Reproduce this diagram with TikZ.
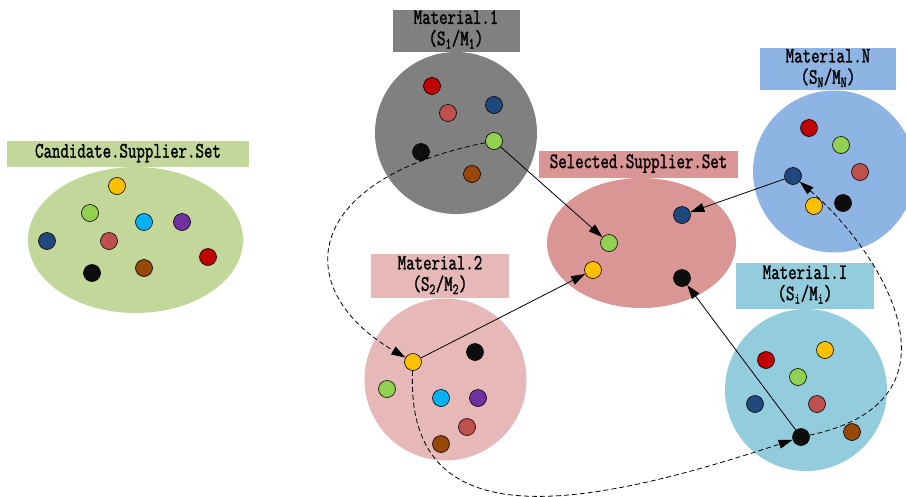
\documentclass[tikz,border=0pt]{standalone}
\usepackage{fontspec}
\usepackage{graphicx}
\usetikzlibrary{shapes.geometric,arrows.meta,positioning}
\newfontfamily\labfont[FakeBold=1.8]{Latin Modern Mono}
\newcommand{\labtxt}[1]{\scalebox{0.82}[1.1]{\begin{tabular}{@{}c@{}}#1\end{tabular}}}
\definecolor{candcol}{HTML}{C4D79B}
\definecolor{selcol}{HTML}{D99694}
\definecolor{onecol}{HTML}{808080}
\definecolor{twocol}{HTML}{E6B9B8}
\definecolor{ncol}{HTML}{8EB4E3}
\definecolor{icol}{HTML}{93CDDD}
\definecolor{yel}{HTML}{FFC000}
\definecolor{grn}{HTML}{92D050}
\definecolor{cya}{HTML}{00B0F0}
\definecolor{pur}{HTML}{7030A0}
\definecolor{nav}{HTML}{1F497D}
\definecolor{sal}{HTML}{C0504D}
\definecolor{red}{HTML}{C00000}
\definecolor{blk}{HTML}{0D0D0D}
\definecolor{brn}{HTML}{974706}

\begin{document}
\begin{tikzpicture}[x=1pt,y=-1pt,
  set/.style={ellipse,inner sep=0pt,fill=#1},
  mat/.style={circle,minimum size=162pt,inner sep=0pt,fill=#1},
  lab/.style={rectangle,inner sep=0pt,align=center,fill=#1,
    font=\labfont\fontsize{20}{18}\selectfont},
  dot/.style={circle,draw=black,line width=0.6pt,minimum size=17pt,inner sep=0pt,fill=#1},
  arr/.style={-{Triangle[length=14pt,width=9pt]},line width=0.8pt},
  dsh/.style={arr,dash pattern=on 5pt off 3pt}]
\useasboundingbox (0,0) rectangle (906,496);
\clip (0,0) rectangle (906,496);

\node[set=candcol,minimum width=215pt,minimum height=146pt] (cand) at (135.5,240) {};
\node[lab=candcol,minimum width=242pt,minimum height=26pt,above=0pt of cand,xshift=-7.5pt] (cand-lab) {\labtxt{Candidate.Supplier.Set}};
\node[set=selcol,minimum width=189pt,minimum height=130pt] (sel) at (641.5,243) {};
\node[lab=selcol,minimum width=199pt,minimum height=27pt,above=0pt of sel,xshift=-3pt] (sel-lab) {\labtxt{Selected.Supplier.Set}};
\node[mat=onecol] (mat1) at (456,133) {};
\node[lab=onecol,minimum width=127pt,minimum height=42pt,above=0pt of mat1] (mat1-lab) {\labtxt{Material.1\\(S\textsubscript{1}/M\textsubscript{1})}};
\node[mat=twocol] (mat2) at (445.5,379.5) {};
\node[lab=twocol,minimum width=138pt,minimum height=44pt,above=0pt of mat2,xshift=-5.5pt] (mat2-lab) {\labtxt{Material.2\\(S\textsubscript{2}/M\textsubscript{2})}};
\node[mat=ncol] (matN) at (834,171.5) {};
\node[lab=ncol,minimum width=136pt,minimum height=42pt,above=0pt of matN,xshift=-6pt] (matN-lab) {\labtxt{Material.N\\(S\textsubscript{N}/M\textsubscript{N})}};
\node[mat=icol] (matI) at (806,390) {};
\node[lab=icol,minimum width=138pt,minimum height=46pt,above=0pt of matI,xshift=-1pt] (matI-lab) {\labtxt{Material.I\\(S\textsubscript{i}/M\textsubscript{i})}};

\node[dot=yel] (c-yel) at (117,186) {};
\node[dot=grn] (c-grn) at (90,213) {};
\node[dot=cya] (c-cya) at (144,222) {};
\node[dot=pur] (c-pur) at (182,222) {};
\node[dot=nav] (c-nav) at (47,241) {};
\node[dot=sal] (c-sal) at (109,241) {};
\node[dot=red] (c-red) at (208,257) {};
\node[dot=blk] (c-blk) at (92,273) {};
\node[dot=brn] (c-brn) at (144,268) {};

\node[dot=red] (m1-red) at (432,86) {};
\node[dot=sal] (m1-sal) at (448,113) {};
\node[dot=nav] (m1-nav) at (494,105) {};
\node[dot=grn] (m1-grn) at (494,141) {};
\node[dot=blk] (m1-blk) at (421,152) {};
\node[dot=brn] (m1-brn) at (472,174) {};

\node[dot=yel] (m2-yel) at (413,362) {};
\node[dot=blk] (m2-blk) at (475,352) {};
\node[dot=grn] (m2-grn) at (387,389) {};
\node[dot=cya] (m2-cya) at (441,398) {};
\node[dot=pur] (m2-pur) at (478,398) {};
\node[dot=sal] (m2-sal) at (467,427) {};
\node[dot=brn] (m2-brn) at (441,444) {};

\node[dot=red] (mN-red) at (809,128) {};
\node[dot=grn] (mN-grn) at (841,145) {};
\node[dot=sal] (mN-sal) at (860,172) {};
\node[dot=nav] (mN-nav) at (793,176) {};
\node[dot=yel] (mN-yel) at (814,206) {};
\node[dot=blk] (mN-blk) at (843,203) {};

\node[dot=red] (mI-red) at (766,360) {};
\node[dot=yel] (mI-yel) at (825,350) {};
\node[dot=grn] (mI-grn) at (798,377) {};
\node[dot=nav] (mI-nav) at (755,404) {};
\node[dot=sal] (mI-sal) at (817,404) {};
\node[dot=brn] (mI-brn) at (852,432) {};
\node[dot=blk] (mI-blk) at (801,437) {};

\node[dot=grn] (s-grn) at (609,243) {};
\node[dot=yel] (s-yel) at (593,270) {};
\node[dot=nav] (s-nav) at (682,215) {};
\node[dot=blk] (s-blk) at (682,278) {};

\draw[arr] (m1-grn) -- (s-grn);
\draw[arr] (m2-yel) -- (s-yel);
\draw[arr] (mN-nav) -- (s-nav);
\draw[arr] (mI-blk) -- (s-blk);
\draw[dsh] (m1-grn) .. controls (300,180) and (290,290) .. (m2-yel);
\draw[dsh] (m2-yel) .. controls (405,540) and (580,510) .. (mI-blk);
\draw[dsh] (mI-blk) .. controls (975,400) and (880,250) .. (mN-nav);
\end{tikzpicture}
\end{document}
